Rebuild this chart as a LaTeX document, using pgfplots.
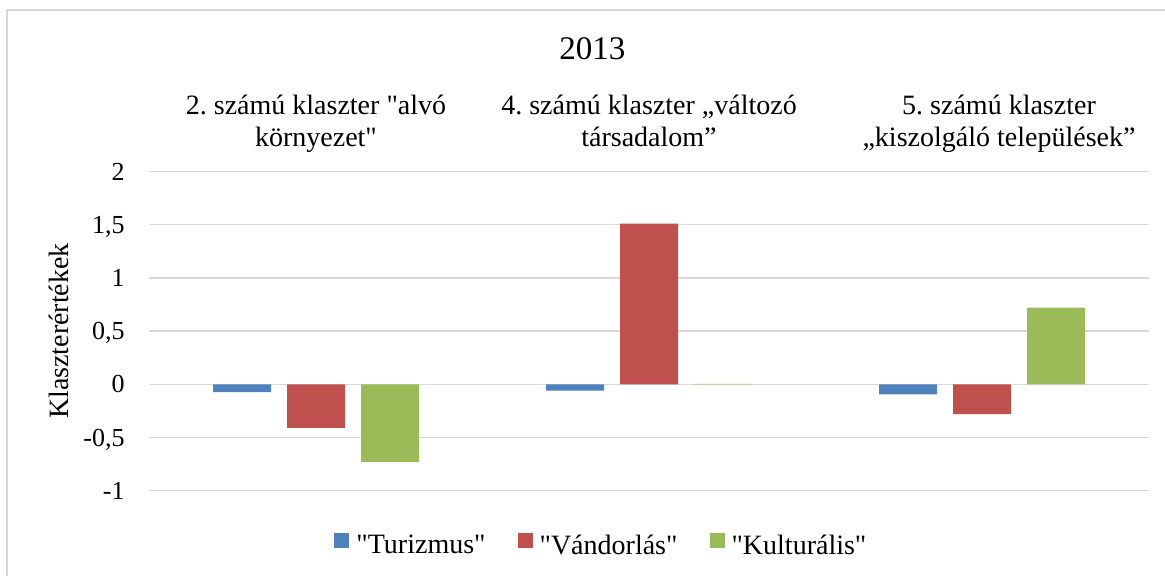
\documentclass[border=0pt]{standalone}
\usepackage{fontspec}
\setmainfont{Liberation Serif}[Ligatures=TeXOff]
\usepackage{pgfplots}
\pgfplotsset{compat=1.18}
\definecolor{cT}{HTML}{4F81BD}
\definecolor{cV}{HTML}{C0504D}
\definecolor{cK}{HTML}{9BBB59}
\definecolor{gridc}{HTML}{D9D9D9}
\frenchspacing
\begin{document}
\begin{tikzpicture}
\begin{axis}[
  scale only axis, width=499.5pt, height=159.6pt,
  ybar=8pt, bar width=29pt,
  xmin=-0.5, xmax=2.5, ymin=-1, ymax=2,
  axis line style={draw=none},
  major tick length=0pt,
  xtick={0,1},
  xticklabels={{2. számú klaszter "alvó\\környezet"},{4. számú klaszter „változó\\társadalom”}},
  extra x ticks={2},
  extra x tick labels={{5. számú klaszter\\„kiszolgáló települések”}},
  extra x tick style={xticklabel style={xshift=8.5pt}},
  xticklabel pos=upper,
  xticklabel style={align=center, anchor=south, inner sep=0pt, text depth=4pt, yshift=8.25pt, font=\fontsize{14}{16}\selectfont},
  ytick={-1,-0.5,0,0.5,1,1.5,2},
  yticklabels={{-1},{-0,5},{0},{0,5},{1},{1,5},{2}},
  yticklabel style={anchor=east, inner sep=0pt, text depth=0pt, xshift=-12.25pt, font=\fontsize{13}{15}\selectfont},
  ymajorgrids, major grid style={gridc, line width=0.75pt},
  ylabel={Klaszterértékek},
  ylabel style={at={(axis description cs:-0.0813,0.5)}, anchor=base, rotate=0, font=\fontsize{14}{16}\selectfont},
  title={2013},
  title style={at={(axis description cs:0.4434,1.313)}, anchor=base, inner sep=0pt, font=\fontsize{16.5}{19}\selectfont},
  legend columns=3,
  legend image code/.code={\fill[#1] (0pt,-1pt) rectangle (7.5pt,6.5pt);},
  legend style={at={(axis description cs:0.1787,-0.17)}, anchor=west, draw=none, fill=none,
    font=\fontsize{14}{16}\selectfont,
    nodes={inner sep=0pt},
    /tikz/every even column/.append style={column sep=16pt},
    /tikz/every odd column/.append style={column sep=3.5pt}},
]
\addplot[fill=cT, draw=none] coordinates {(0,-0.073) (1,-0.06) (2,-0.095)};
\addplot[fill=cV, draw=none] coordinates {(0,-0.41) (1,1.51) (2,-0.28)};
\addplot[fill=cK, draw=none] coordinates {(0,-0.73) (1,0.004) (2,0.72)};
\legend{"Turizmus","Vándorlás","Kulturális"}
\end{axis}
\draw[gridc, line width=1pt] (-71pt,-60pt) -- (-71pt,240.35pt) -- (520pt,240.35pt);
\pgfresetboundingbox
\path[use as bounding box] (-74.75pt,-42.65pt) rectangle (507.75pt,245.35pt);
\end{tikzpicture}
\end{document}
